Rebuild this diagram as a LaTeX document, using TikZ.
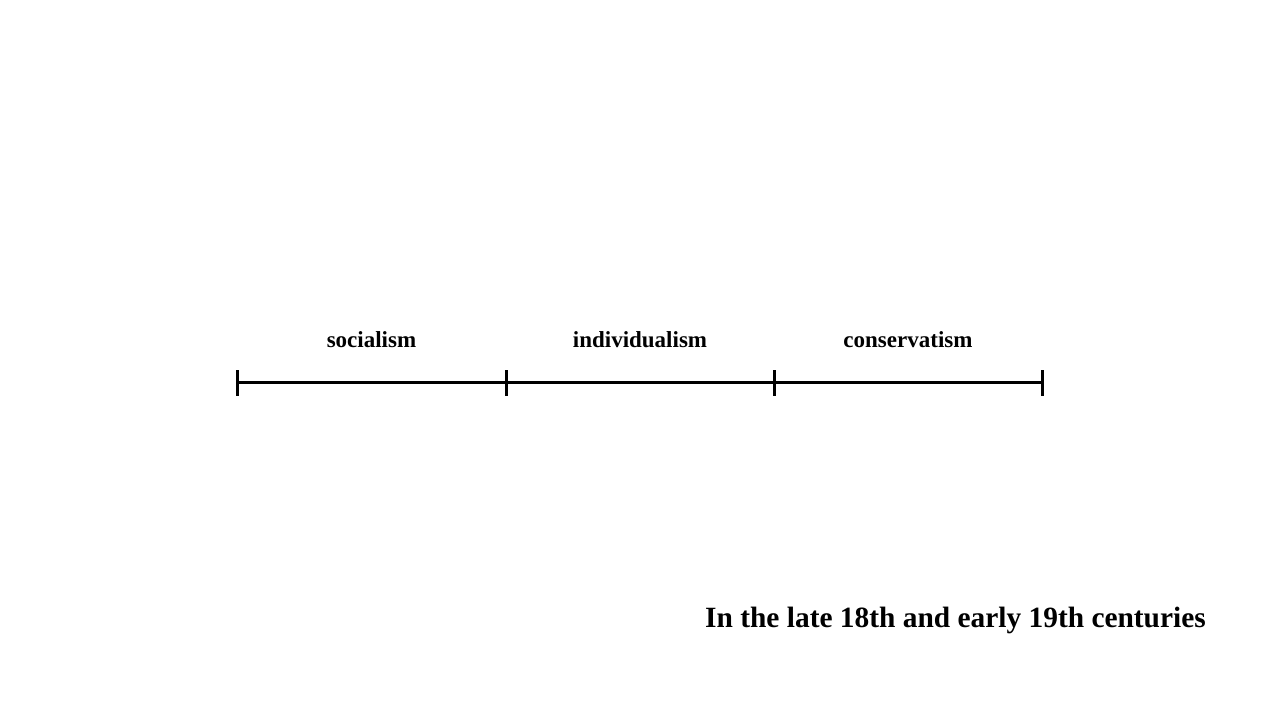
\documentclass[tikz,border=0pt]{standalone}
\usepackage{fontspec}
\setmainfont{Liberation Serif}
\begin{document}
\begin{tikzpicture}[x=1pt,y=1pt,
  seg/.style={line width=3pt},
  tick/.style={line width=3pt},
  lbl/.style={font=\fontsize{23}{26}\selectfont\bfseries, anchor=base, inner sep=0pt},
  ttl/.style={font=\fontsize{29.4}{33}\selectfont\bfseries, anchor=base east, inner sep=0pt}]
\useasboundingbox (0,0) rectangle (1280,720);
\coordinate (t0) at (237,337);
\coordinate (t1) at (506,337);
\coordinate (t2) at (774,337);
\coordinate (t3) at (1042,337);
\draw[seg] (t0) -- (t1) -- (t2) -- (t3);
\foreach \t in {t0,t1,t2,t3}{
  \draw[tick] ([yshift=12.5pt]\t) -- ([yshift=-13pt]\t);
}
\node[lbl] (soc) at (371.5,372) {socialism};
\node[lbl] (ind) at (640,372) {individualism};
\node[lbl] (con) at (908,372) {conservatism};
\node[ttl] (title) at (1206,92) {In the late 18th and early 19th centuries};
\end{tikzpicture}
\end{document}
